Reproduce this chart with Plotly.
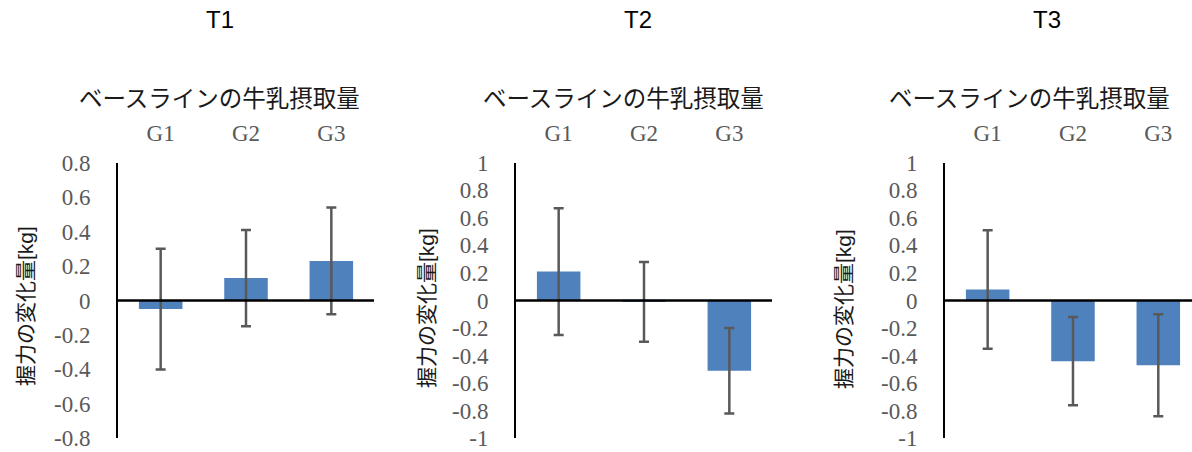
import plotly.graph_objects as go

# Grip-strength change by baseline milk-intake group, for three time points
groups = ["G1", "G2", "G3"]
panel_titles = ["T1", "T2", "T3"]
x_title = "ベースラインの牛乳摂取量"
y_title = "握力の変化量[kg]"

t1_mean = [-0.05, 0.13, 0.23]
t1_err = [0.35, 0.28, 0.31]
t2_mean = [0.21, -0.01, -0.51]
t2_err = [0.46, 0.29, 0.31]
t3_mean = [0.08, -0.44, -0.47]
t3_err = [0.43, 0.32, 0.37]

t1_ticks = [0.8, 0.6, 0.4, 0.2, 0, -0.2, -0.4, -0.6, -0.8]
t1_ticktext = ["0.8", "0.6", "0.4", "0.2", "0", "-0.2", "-0.4", "-0.6", "-0.8"]
t23_ticks = [1, 0.8, 0.6, 0.4, 0.2, 0, -0.2, -0.4, -0.6, -0.8, -1]
t23_ticktext = ["1", "0.8", "0.6", "0.4", "0.2", "0", "-0.2", "-0.4", "-0.6", "-0.8", "-1"]

W, H = 1192, 452
BAR = "#4F81BD"
GREY = "#595959"
TICK_FONT = dict(family="Liberation Serif", size=23, color=GREY)
CJK = "Noto Sans CJK JP"
MIXED = "Liberation Sans, Noto Sans CJK JP"

panels = [
    dict(mean=t1_mean, err=t1_err, ticks=t1_ticks, text=t1_ticktext, yr=[-0.8, 0.8],
         px=(118, 374), xr=[-0.5, 2.5], title_x=220, sub_x=219.5, ytitle=(25, 306)),
    dict(mean=t2_mean, err=t2_err, ticks=t23_ticks, text=t23_ticktext, yr=[-1, 1],
         px=(516, 772), xr=[-0.5, 2.5], title_x=638, sub_x=623, ytitle=(426, 308)),
    dict(mean=t3_mean, err=t3_err, ticks=t23_ticks, text=t23_ticktext, yr=[-1, 1],
         px=(945, 1192), xr=[-0.5, 2.395], title_x=1047, sub_x=1029, ytitle=(843, 309)),
]

y_top, y_bot = 162.7, 438.3
ydom = [1 - y_bot / H, 1 - y_top / H]

fig = go.Figure()
annotations = []
shapes = []

for i, p in enumerate(panels, start=1):
    sfx = "" if i == 1 else str(i)
    fig.add_trace(go.Bar(
        x=groups, y=p["mean"], width=0.51,
        marker=dict(color=BAR, line=dict(width=0)),
        error_y=dict(type="data", array=p["err"], visible=True,
                     color=GREY, thickness=2.5, width=5),
        xaxis="x" + sfx, yaxis="y" + sfx, showlegend=False,
    ))
    x0, x1 = p["px"]
    fig.update_layout(**{
        "xaxis" + sfx: dict(
            domain=[x0 / W, x1 / W], range=p["xr"], anchor="y" + sfx,
            side="top", type="category", showgrid=False, zeroline=False,
            showline=False, ticks="", tickfont=TICK_FONT, ticklabelstandoff=16,
            automargin=False,
        ),
        "yaxis" + sfx: dict(
            domain=ydom, range=p["yr"], anchor="x" + sfx,
            tickvals=p["ticks"], ticktext=p["text"], tickfont=TICK_FONT,
            showgrid=False, zeroline=False, showline=True, linecolor="black",
            linewidth=2, ticks="", ticklabelstandoff=21, automargin=False,
        ),
    })
    # zero reference line over the bars
    shapes.append(dict(type="line", xref="x" + sfx + " domain", yref="y" + sfx,
                       x0=0, x1=1, y0=0, y1=0, layer="above",
                       line=dict(color="black", width=2.5)))
    annotations.append(dict(text=panel_titles[i - 1], xref="paper", yref="paper",
                            x=p["title_x"] / W, y=1 - 20 / H, showarrow=False,
                            xanchor="center", yanchor="middle",
                            font=dict(family="Liberation Sans", size=24, color="black")))
    annotations.append(dict(text=x_title, xref="paper", yref="paper",
                            x=p["sub_x"] / W, y=1 - 97 / H, showarrow=False,
                            xanchor="center", yanchor="middle",
                            font=dict(family=CJK, size=23.5, color="#1a1a1a")))
    annotations.append(dict(text=y_title, xref="paper", yref="paper",
                            x=p["ytitle"][0] / W, y=1 - p["ytitle"][1] / H,
                            showarrow=False, textangle=-90,
                            xanchor="center", yanchor="middle",
                            font=dict(family=MIXED, size=21, color="#1a1a1a")))

fig.update_layout(
    width=W, height=H, margin=dict(l=0, r=0, t=0, b=0, autoexpand=False),
    paper_bgcolor="white", plot_bgcolor="white",
    annotations=annotations, shapes=shapes, bargap=0.49,
)

fig.write_html("out.html")
